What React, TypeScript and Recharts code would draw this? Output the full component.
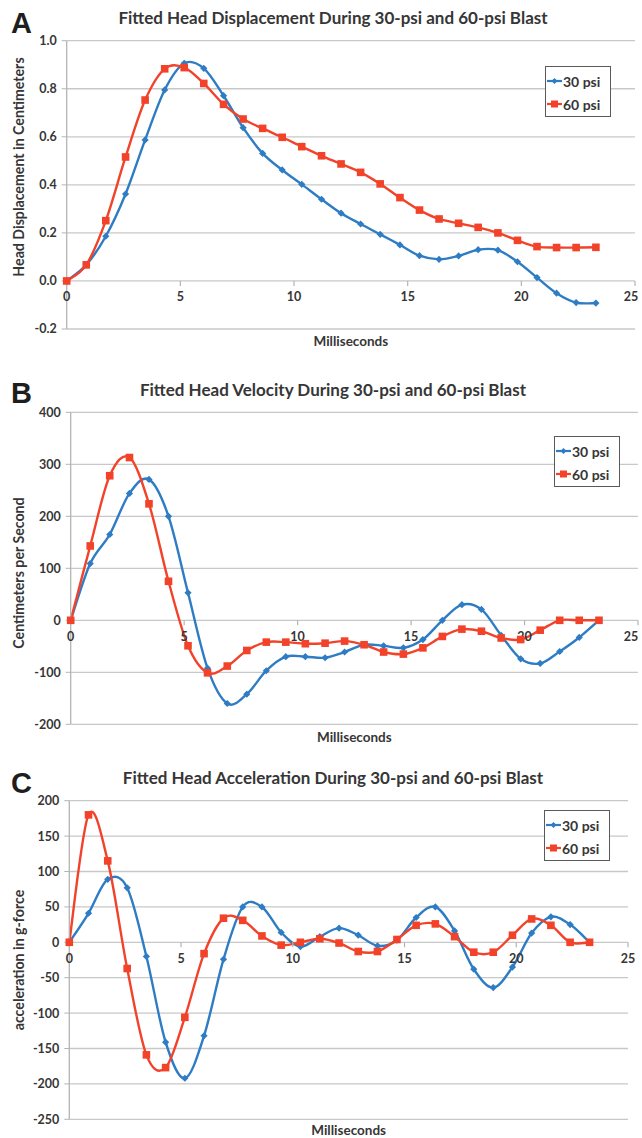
import React from 'react';
import { LineChart, Line, XAxis, YAxis, CartesianGrid, Legend, ReferenceDot } from 'recharts';

// sample times (ms), same for every series
const ms = [0, 0.86, 1.72, 2.59, 3.45, 4.31, 5.17, 6.03, 6.9, 7.76, 8.62, 9.48, 10.34, 11.21, 12.07, 12.93, 13.79, 14.66, 15.52, 16.38, 17.24, 18.1, 18.97, 19.83, 20.69, 21.55, 22.41, 23.28];

const disp30 = [0, 0.067, 0.186, 0.362, 0.587, 0.795, 0.906, 0.885, 0.771, 0.638, 0.531, 0.462, 0.402, 0.34, 0.282, 0.237, 0.194, 0.15, 0.105, 0.09, 0.104, 0.13, 0.128, 0.08, 0.014, -0.051, -0.09, -0.092];
const disp60 = [0, 0.067, 0.251, 0.516, 0.753, 0.883, 0.888, 0.822, 0.735, 0.674, 0.635, 0.598, 0.559, 0.521, 0.487, 0.452, 0.404, 0.347, 0.295, 0.258, 0.24, 0.223, 0.2, 0.169, 0.143, 0.139, 0.139, 0.14];

const vel30 = [0, 109, 165, 244, 271, 200, 53, -92, -160, -142, -97, -70, -70, -72, -61, -47, -49, -53, -37, 0, 30, 21, -29, -74, -83, -60, -33, 0];
const vel60 = [0, 143, 278, 313, 224, 75, -49, -101, -88, -58, -42, -42, -45, -44, -40, -47, -61, -65, -53, -31, -17, -21, -34, -37, -19, 0, 0, 0];

const acc30 = [0, 41, 89, 77, -20, -141, -192, -132, -24, 50, 50, 14, -6, 8, 20, 10, -5, 3, 35, 50, 16, -38, -64, -35, 13, 36, 25, 0];
const acc60 = [0, 180, 115, -37, -159, -177, -106, -16, 34, 31, 9, -4, 0, 5, -1, -13, -13, 4, 24, 26, 8, -14, -14, 10, 33, 24, 0, 0];

const xTicks = [0, 5, 10, 15, 20, 25];
const dispTicks = [-0.2, 0, 0.2, 0.4, 0.6, 0.8, 1.0];
const velTicks = [-200, -100, 0, 100, 200, 300, 400];
const accTicks = [-250, -200, -150, -100, -50, 0, 50, 100, 150, 200];

const seriesNames = ['30 psi', '60 psi'];

const BLUE = '#2d7cc4';
const RED = '#f2432a';
const GRID = '#c8c8c8';
const AXIS = '#b4b4b4';
const TEXT = '#363636';
const FONT = "Lato, 'Open Sans', sans-serif";

// Excel-style smoothed line (Catmull-Rom through the points)
const excelCurve: any = (ctx: any) => {
  let pts: number[][] = [];
  return {
    areaStart() {},
    areaEnd() {},
    lineStart() { pts = []; },
    point(x: number, y: number) { pts.push([+x, +y]); },
    lineEnd() {
      const n = pts.length;
      if (!n) return;
      ctx.moveTo(pts[0][0], pts[0][1]);
      for (let i = 0; i < n - 1; i++) {
        const p0 = pts[i > 0 ? i - 1 : i];
        const p1 = pts[i];
        const p2 = pts[i + 1];
        const p3 = pts[i + 2 < n ? i + 2 : i + 1];
        ctx.bezierCurveTo(
          p1[0] + (p2[0] - p0[0]) / 6, p1[1] + (p2[1] - p0[1]) / 6,
          p2[0] - (p3[0] - p1[0]) / 6, p2[1] - (p3[1] - p1[1]) / 6,
          p2[0], p2[1]
        );
      }
    },
  };
};

const diamondDot = (p: any) => {
  if (p.cx == null || p.cy == null) return <g key={`b${p.index}`} />;
  const s = 3.6;
  return <path key={`b${p.index}`} d={`M${p.cx},${p.cy - s}L${p.cx + s},${p.cy}L${p.cx},${p.cy + s}L${p.cx - s},${p.cy}Z`} fill={BLUE} />;
};

const squareDot = (p: any) => {
  if (p.cx == null || p.cy == null) return <g key={`r${p.index}`} />;
  return <rect key={`r${p.index}`} x={p.cx - 3.8} y={p.cy - 3.8} width={7.6} height={7.6} fill={RED} />;
};

const LegendBox = () => (
  <div style={{ position: 'relative', width: 66, height: 51, boxSizing: 'border-box', border: '1.5px solid #5a5a5a', background: '#fff', fontFamily: FONT, fontWeight: 700, fontSize: 14, color: TEXT }}>
    {seriesNames.map((name, i) => (
      <div key={name} style={{ position: 'absolute', left: 1, top: i === 0 ? 6 : 29, height: 16, display: 'flex', alignItems: 'center', whiteSpace: 'nowrap' }}>
        <svg width={15} height={10}>
          <line x1={0} y1={5} x2={15} y2={5} stroke={i === 0 ? BLUE : RED} strokeWidth={2.2} />
          {i === 0
            ? <path d="M7.5,2L10.5,5L7.5,8L4.5,5Z" fill={BLUE} />
            : <rect x={4} y={1.5} width={7} height={7} fill={RED} />}
        </svg>
        <span style={{ marginLeft: 1 }}>{name}</span>
      </div>
    ))}
  </div>
);

type PanelCfg = {
  top: number;
  height: number;
  letter: string;
  letterBase: number;
  title: string;
  titleBase: number;
  yTitle: string;
  yTitleCenter: number;
  s30: number[];
  s60: number[];
  yDomain: [number, number];
  yTicks: number[];
  fmt: (v: number) => string;
  plotLeft: number;
  plotRight: number;
  plotTop: number;
  plotBottom: number;
  legendLeft: number;
  legendTop: number;
  xLabelY: number;
};

const Panel = ({ cfg }: { cfg: PanelCfg }) => {
  const rows = ms.map((t, i) => ({ t, a: cfg.s30[i], b: cfg.s60[i] }));
  const axisH = cfg.top + cfg.height - cfg.plotBottom;
  return (
    <div style={{ position: 'absolute', left: 0, top: cfg.top, width: 642, height: cfg.height }}>
      <LineChart
        width={642}
        height={cfg.height}
        data={rows}
        margin={{ top: cfg.plotTop - cfg.top, right: 642 - cfg.plotRight, left: 0, bottom: 0 }}
      >
        <CartesianGrid vertical={false} stroke={GRID} strokeWidth={1.3} />
        <XAxis
          type="number"
          dataKey="t"
          domain={[0, 25]}
          ticks={xTicks}
          axisLine={false}
          tickLine={false}
          tick={false}
          height={axisH}
          label={() => (
            <text x={(cfg.plotLeft + cfg.plotRight) / 2} y={cfg.xLabelY - cfg.top} textAnchor="middle" dominantBaseline="central" fill={TEXT} fontFamily={FONT} fontWeight={700} fontSize={13.5}>
              Milliseconds
            </text>
          )}
        />
        <YAxis
          type="number"
          domain={cfg.yDomain}
          ticks={cfg.yTicks}
          interval={0}
          width={cfg.plotLeft}
          axisLine={{ stroke: AXIS, strokeWidth: 1.3 }}
          tickLine={{ stroke: AXIS }}
          tickSize={5}
          tickMargin={5}
          tickFormatter={cfg.fmt}
          tick={{ fill: TEXT, fontSize: 12.5, fontWeight: 700, fontFamily: FONT }}
          label={() => {
            const cy = cfg.yTitleCenter - cfg.top;
            return (
              <text x={18} y={cy} transform={`rotate(-90, 18, ${cy})`} textAnchor="middle" dominantBaseline="central" fill={TEXT} fontFamily={FONT} fontWeight={700} fontSize={14.2}>
                {cfg.yTitle}
              </text>
            );
          }}
        />
        {xTicks.map((t) => (
          <ReferenceDot
            key={`xt${t}`}
            x={t}
            y={0}
            r={0}
            ifOverflow="visible"
            shape={(p: any) => (
              <g>
                <line x1={p.cx} y1={p.cy} x2={p.cx} y2={p.cy + 5} stroke={AXIS} strokeWidth={1.2} />
                <text x={Math.min(p.cx, 631)} y={p.cy + 16} textAnchor="middle" dominantBaseline="central" fill={TEXT} fontFamily={FONT} fontWeight={700} fontSize={12.5}>
                  {t}
                </text>
              </g>
            )}
          />
        ))}
        <Line dataKey="a" name={seriesNames[0]} type={excelCurve} stroke={BLUE} strokeWidth={2.4} dot={diamondDot} activeDot={false} isAnimationActive={false} />
        <Line dataKey="b" name={seriesNames[1]} type={excelCurve} stroke={RED} strokeWidth={2.4} dot={squareDot} activeDot={false} isAnimationActive={false} />
        <Legend
          layout="vertical"
          align="center"
          verticalAlign="middle"
          wrapperStyle={{ left: cfg.legendLeft, top: cfg.legendTop - cfg.top, width: 66, height: 51 }}
          content={() => <LegendBox />}
        />
      </LineChart>
      <svg width={642} height={cfg.height} style={{ position: 'absolute', left: 0, top: 0, pointerEvents: 'none' }}>
        <text x={11} y={cfg.letterBase - cfg.top} fontFamily="'Liberation Sans', Arial, sans-serif" fontWeight={700} fontSize={29} fill="#1e1e1e">
          {cfg.letter}
        </text>
        <text x={333} y={cfg.titleBase - cfg.top} textAnchor="middle" fontFamily={FONT} fontWeight={700} fontSize={17} fill={TEXT}>
          {cfg.title}
        </text>
      </svg>
    </div>
  );
};

const panels: PanelCfg[] = [
  {
    top: 0, height: 370, letter: 'A', letterBase: 33,
    title: 'Fitted Head Displacement During 30-psi and 60-psi Blast', titleBase: 24,
    yTitle: 'Head Displacement in Centimeters', yTitleCenter: 167,
    s30: disp30, s60: disp60, yDomain: [-0.2, 1.0], yTicks: dispTicks, fmt: (v) => v.toFixed(1),
    plotLeft: 66.7, plotRight: 635, plotTop: 40.7, plotBottom: 329,
    legendLeft: 545, legendTop: 66, xLabelY: 341,
  },
  {
    top: 370, height: 390, letter: 'B', letterBase: 403,
    title: 'Fitted Head Velocity During 30-psi and 60-psi Blast', titleBase: 395.5,
    yTitle: 'Centimeters per Second', yTitleCenter: 573,
    s30: vel30, s60: vel60, yDomain: [-200, 400], yTicks: velTicks, fmt: (v) => String(v),
    plotLeft: 70.7, plotRight: 638, plotTop: 412.3, plotBottom: 724.3,
    legendLeft: 554, legendTop: 436, xLabelY: 737,
  },
  {
    top: 760, height: 378, letter: 'C', letterBase: 793,
    title: 'Fitted Head Acceleration During 30-psi and 60-psi Blast', titleBase: 784,
    yTitle: 'acceleration in g-force', yTitleCenter: 960,
    s30: acc30, s60: acc60, yDomain: [-250, 200], yTicks: accTicks, fmt: (v) => String(v),
    plotLeft: 69.3, plotRight: 628, plotTop: 800.7, plotBottom: 1119.3,
    legendLeft: 544, legendTop: 810, xLabelY: 1130,
  },
];

export default function App() {
  return (
    <div style={{ position: 'absolute', left: 0, top: 0, width: 642, height: 1138, background: '#fff' }}>
      {panels.map((cfg) => (
        <Panel key={cfg.letter} cfg={cfg} />
      ))}
    </div>
  );
}
